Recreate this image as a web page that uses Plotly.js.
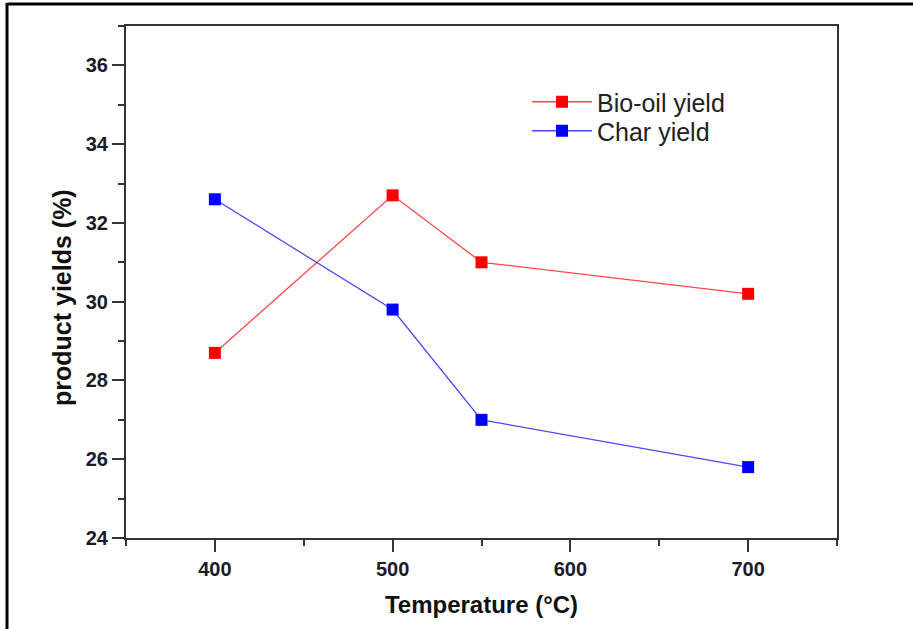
<!DOCTYPE html>
<html><head><meta charset="utf-8">
<script src="https://cdn.plot.ly/plotly-3.0.1.min.js"></script>
<style>html,body{margin:0;padding:0;background:#fff}#chart{width:913px;height:629px}</style>
</head><body><div id="chart"></div>
<script>
const temperatures = [400, 500, 550, 700];
const bioOilYield = [28.7, 32.7, 31.0, 30.2];
const charYield = [32.6, 29.8, 27.0, 25.8];
const seriesNames = ["Bio-oil yield", "Char yield"];
const xTickValues = [400, 500, 600, 700];
const yTickValues = [24, 26, 28, 30, 32, 34, 36];

const W = 913, H = 629, L = 126, R = 76, T = 26, B = 91;
const pw = W - L - R, ph = H - T - B;
const px = v => (v - L) / pw;
const py = v => 1 - (v - T) / ph;
const FAM = 'Liberation Sans, Arial, sans-serif';

const traces = [
  {x: temperatures, y: bioOilYield, name: seriesNames[0], mode: 'lines+markers', legend: 'legend',
   line: {color: 'rgba(255,40,40,0.85)', width: 1.3},
   marker: {symbol: 'square', size: 12, color: '#ff0000'}},
  {x: temperatures, y: charYield, name: seriesNames[1], mode: 'lines+markers', legend: 'legend2',
   line: {color: 'rgba(40,40,255,0.85)', width: 1.3},
   marker: {symbol: 'square', size: 12, color: '#0000ff'}}
];

const axisCommon = {
  showgrid: false, zeroline: false, showline: true, linecolor: '#333', linewidth: 2,
  mirror: true, ticks: 'outside', ticklen: 12, tickwidth: 2, tickcolor: '#333',
  tickfont: {family: FAM, size: 20, color: '#1a1a2a', weight: 'bold'}
};

const legendCommon = {xanchor: 'left', yanchor: 'middle', bgcolor: 'rgba(0,0,0,0)',
  itemwidth: 60, font: {family: FAM, size: 25, color: '#222'}};

const layout = {
  width: W, height: H,
  margin: {l: L, r: R, t: T, b: B},
  paper_bgcolor: '#fff', plot_bgcolor: '#fff',
  font: {family: FAM, color: '#111'},
  xaxis: Object.assign({}, axisCommon, {
    range: [350, 750], tickmode: 'array', tickvals: xTickValues,
    minor: {dtick: 50, tick0: 350, ticks: 'outside', ticklen: 6, tickwidth: 2, tickcolor: '#333'},
    title: {text: 'Temperature (°C)', standoff: 17,
            font: {family: FAM, size: 24, color: '#111', weight: 'bold'}}
  }),
  yaxis: Object.assign({}, axisCommon, {
    range: [24, 37], tickmode: 'array', tickvals: yTickValues,
    minor: {dtick: 1, tick0: 24, ticks: 'outside', ticklen: 6, tickwidth: 2, tickcolor: '#333'}
  }),
  showlegend: true,
  legend: Object.assign({}, legendCommon, {x: px(527), y: py(102)}),
  legend2: Object.assign({}, legendCommon, {x: px(527), y: py(131)}),
  annotations: [
    {text: 'product yields (%)', xref: 'paper', yref: 'paper', x: px(62), y: py(298),
     xanchor: 'center', yanchor: 'middle', textangle: -90, showarrow: false,
     font: {family: FAM, size: 25, color: '#111', weight: 'bold'}}
  ],
  shapes: [
    {type: 'line', xref: 'paper', yref: 'paper', x0: px(7), x1: px(913), y0: py(4), y1: py(4),
     line: {color: '#000', width: 3}},
    {type: 'line', xref: 'paper', yref: 'paper', x0: px(7), x1: px(7), y0: py(3), y1: py(629),
     line: {color: '#000', width: 3}}
  ]
};

Plotly.newPlot('chart', traces, layout, {displayModeBar: false, staticPlot: true});
</script></body></html>
